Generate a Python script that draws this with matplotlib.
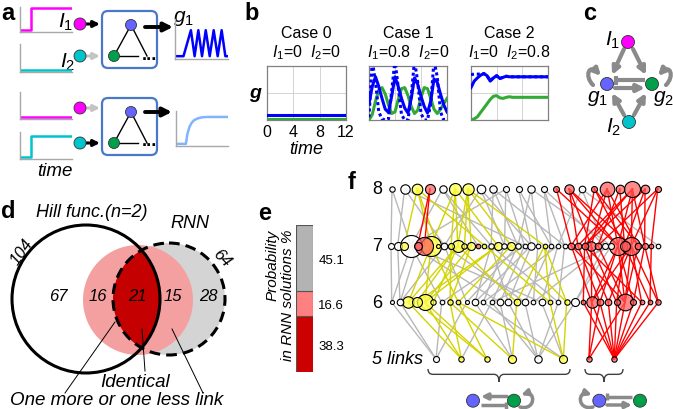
import numpy as np
import matplotlib
matplotlib.use('Agg')
import matplotlib.pyplot as plt
from matplotlib.patches import Circle, FancyBboxPatch, FancyArrowPatch, PathPatch
from matplotlib.path import Path

plt.rcParams['font.family'] = ['Liberation Sans', 'DejaVu Sans']
plt.rcParams['mathtext.fontset'] = 'custom'
plt.rcParams['mathtext.rm'] = 'Liberation Sans'
plt.rcParams['mathtext.it'] = 'Liberation Sans:italic'
plt.rcParams['mathtext.bf'] = 'Liberation Sans:bold:italic'

# ------------------------------------------------------------------ data
# panel a: schematic input / output traces (normalised time, level)
a_step_t = [0, 0.21, 0.21, 1]
a_I1_on = [0.08, 0.08, 0.95, 0.95]
a_I2_on = [0.08, 0.08, 0.85, 0.85]
a_flat_t = [0, 1]
a_I_off = [0.07, 0.07]
a_osc_t = [0, 0.16, 0.30, 0.37, 0.44, 0.51, 0.58, 0.655, 0.73, 0.805, 0.88, 0.95, 1.0]
a_osc_y = [0.07, 0.07, 0.72, 0.07, 0.72, 0.07, 0.72, 0.07, 0.72, 0.07, 0.72, 0.07, 0.07]
a_resp_t = [0, 0.19, 0.22, 0.26, 0.30, 0.35, 0.42, 0.50, 0.60, 1.0]
a_resp_y = [0.06, 0.06, 0.35, 0.55, 0.66, 0.74, 0.79, 0.82, 0.83, 0.83]

# panel b: time courses
b_time = np.arange(0, 12.01, 0.5)
case_titles = ['Case 0', 'Case 1', 'Case 2']
case_inputs = [r'$I_1$=0  $I_2$=0', r'$I_1$=0.8  $I_2$=0', r'$I_1$=0  $I_2$=0.8']
c0_blue = [0.10] * 25
c0_green = [0.025] * 25
c1_blue = [0.30, 0.62, 0.80, 0.62, 0.40, 0.20, 0.14, 0.45, 0.80, 0.62, 0.40, 0.22, 0.13,
           0.40, 0.78, 0.66, 0.44, 0.25, 0.13, 0.35, 0.76, 0.70, 0.48, 0.28, 0.15]
c1_dot = [0.05, 1.10, 0.70, 0.15, 0.02, 0.00, 0.02, 0.55, 1.10, 0.60, 0.10, 0.00, 0.00,
          0.45, 1.10, 0.70, 0.12, 0.00, 0.00, 0.30, 1.10, 0.80, 0.15, 0.00, 0.00]
c1_green = [0.00, 0.10, 0.35, 0.55, 0.60, 0.48, 0.28, 0.12, 0.15, 0.38, 0.58, 0.60, 0.45,
            0.25, 0.12, 0.18, 0.42, 0.60, 0.58, 0.40, 0.20, 0.12, 0.20, 0.30, 0.40]
c2_blue = [0.60, 0.72, 0.78, 0.83, 0.86, 0.82, 0.72, 0.78, 0.82, 0.77, 0.79, 0.81, 0.80,
           0.80, 0.80, 0.80, 0.80, 0.80, 0.80, 0.80, 0.80, 0.80, 0.80, 0.80, 0.80]
c2_dot = [0.84, 0.85, 0.85, 0.85, 0.86, 0.82, 0.73, 0.78, 0.82, 0.77, 0.79, 0.81, 0.80,
          0.80, 0.80, 0.80, 0.80, 0.80, 0.80, 0.80, 0.80, 0.80, 0.80, 0.80, 0.80]
c2_green = [0.00, 0.02, 0.06, 0.14, 0.22, 0.30, 0.38, 0.44, 0.45, 0.41, 0.40, 0.42, 0.43,
            0.42, 0.42, 0.42, 0.42, 0.42, 0.42, 0.42, 0.42, 0.42, 0.42, 0.42, 0.42]
b_ticks = [0, 4, 8, 12]

# panel d: Venn counts
venn_hill_total = 104
venn_rnn_total = 64
venn_counts = [67, 16, 21, 15, 28]

# panel e: stacked probability bar (bottom -> top)
e_values = [38.3, 16.6, 45.1]
e_colors = ['#cc0000', '#ff8080', '#b3b3b3']

# panel f: topology nodes per number of links (radius ~ frequency, category)
f_rows = [8, 7, 6, 5]
f_size = {
    8: [2.7, 4.7, 5.3, 5, 3.7, 6, 5.7, 4.3, 3.7, 3, 3, 3.7, 3, 3, 4.7, 3.3, 3, 7.3, 4.3, 8, 4.3, 3],
    7: [3, 4, 4, 11, 4, 9, 10, 2, 3.3, 3, 6, 2.7, 4, 2.3, 2.3, 2.7, 4, 2.7, 4, 2.7, 2.3, 3.7, 2.3,
        2.3, 2.3, 2.3, 2.3, 3.3, 3.3, 3.3, 4.7, 3.3, 3, 3, 9, 5, 9, 3.3, 3, 2.3, 2.3],
    6: [2, 3.3, 5.7, 5, 8, 2.7, 2.3, 2.7, 2.3, 2, 3.3, 2.3, 2.3, 3.3, 3.3, 3.3, 3.3, 2.3, 3.3,
        2.3, 2.3, 2.7, 4, 2.3, 5.7, 3.3, 3.3, 3, 8.3, 3, 2.3, 2.3, 2.7],
    5: [3, 2.7, 2.7, 4, 3.7, 4, 2.7, 2.7],
}
f_cat = {
    8: "wwyrwyywwwwwwrrwrrrrrr",
    7: "wwywrryywy" + "yyyrywywyw" + "wwwywwwrrr" + "rrwwrrrrrr" + "w",
    6: "wwyyyywyyw" + "wwwwwywwwy" + "wywrrrrrrr" + "rrr",
    5: "wyyywyrr",
}
links_5_6 = [(0, 0), (0, 1), (0, 6), (0, 9), (1, 2), (1, 4), (1, 7), (1, 12), (2, 3), (2, 4), (2, 8),
             (3, 7), (3, 15), (3, 10), (3, 13), (4, 12), (4, 14), (4, 16), (4, 22), (4, 20),
             (5, 8), (5, 19), (5, 21), (5, 11), (5, 18), (6, 24), (6, 28), (6, 25),
             (7, 23), (7, 24), (7, 25), (7, 26), (7, 27), (7, 28), (7, 29), (7, 30), (7, 31), (7, 32)]
links_6_7 = [(24, 27), (24, 30), (24, 34), (24, 36), (25, 28), (25, 34), (26, 29), (26, 36), (27, 30),
             (27, 35), (28, 31), (28, 34), (28, 36), (28, 37), (29, 38), (29, 34), (30, 36), (31, 39),
             (32, 36), (32, 38), (23, 29), (28, 27), (31, 35), (30, 29),
             (2, 6), (3, 10), (4, 6), (4, 12), (4, 16), (5, 10), (7, 12), (8, 18), (15, 10), (15, 23),
             (19, 14), (21, 23), (2, 10), (3, 16), (8, 6), (19, 23), (21, 18), (7, 9),
             (0, 0), (0, 3), (1, 1), (1, 8), (6, 3), (9, 8), (10, 15), (11, 17), (12, 19), (13, 3),
             (13, 20), (14, 21), (16, 8), (16, 24), (17, 22), (18, 25), (20, 26), (22, 32), (22, 33),
             (12, 33), (14, 15), (10, 21), (9, 19), (6, 20), (11, 25), (18, 3), (20, 15), (17, 32), (1, 4)]
links_7_8 = [(4, 3), (5, 3), (27, 13), (27, 17), (28, 14), (28, 19), (29, 16), (29, 20), (30, 17),
             (30, 14), (31, 18), (31, 21), (34, 17), (34, 19), (34, 13), (35, 18), (35, 20), (36, 19),
             (36, 14), (36, 21), (37, 17), (37, 16), (38, 20), (38, 19), (39, 21), (34, 14), (35, 16),
             (29, 19),
             (2, 2), (6, 2), (6, 5), (10, 5), (10, 6), (12, 6), (16, 5), (18, 6), (7, 2), (11, 6),
             (9, 5), (14, 2), (23, 6),
             (0, 0), (1, 1), (3, 0), (3, 4), (8, 1), (15, 4), (17, 7), (19, 8), (20, 9), (21, 10),
             (22, 11), (24, 12), (25, 15), (26, 12), (32, 15), (33, 11), (40, 15), (15, 8), (17, 9),
             (19, 11), (21, 7), (8, 7), (3, 9), (24, 10), (13, 4), (26, 8), (32, 12), (20, 1)]

# ------------------------------------------------------------------ styles
W, H = 673, 410
MAG, CYA = '#ff00ff', '#00c4cc'
BLU, GRN = '#6464ff', '#00a04a'
GRAYARR = '#8a8a8a'

fig = plt.figure(figsize=(W / 100, H / 100), dpi=100)
ax0 = fig.add_axes([0, 0, 1, 1])
ax0.set_xlim(0, W)
ax0.set_ylim(H, 0)
ax0.axis('off')


def px_axes(x0, y0, x1, y1):
    return fig.add_axes([x0 / W, 1 - y1 / H, (x1 - x0) / W, (y1 - y0) / H])


def node(x, y, c, r=6.0):
    ax0.add_patch(Circle((x, y), r, fc=c, ec='#333333', lw=0.6, zorder=6))


def arrow(p0, p1, color, lw=2.0, ms=10):
    ax0.add_patch(FancyArrowPatch(p0, p1, arrowstyle='-|>', mutation_scale=ms, color=color,
                                  lw=lw, shrinkA=0, shrinkB=0, zorder=5))


def tbar(p0, p1, color, lw=3.0, half=4.5):
    ax0.plot([p0[0], p1[0]], [p0[1], p1[1]], color=color, lw=lw, solid_capstyle='butt', zorder=5)
    ax0.plot([p1[0], p1[0]], [p1[1] - half, p1[1] + half], color=color, lw=lw,
             solid_capstyle='butt', zorder=5)


def loop(pts, color=GRAYARR, lw=3.0, ms=11):
    path = Path(pts, [Path.MOVETO, Path.CURVE4, Path.CURVE4, Path.CURVE4])
    ax0.add_patch(FancyArrowPatch(path=path, arrowstyle='-|>', mutation_scale=ms, color=color,
                                  lw=lw, zorder=5))


def label(x, y, s):
    ax0.text(x, y, s, fontsize=17, fontweight='bold', ha='center', va='center')


# ------------------------------------------------------------------ panel a
label(8, 13, 'a')


def sketch_axes(x0, y0, x1, y1):
    ax = px_axes(x0, y0, x1, y1)
    ax.set_xlim(0, 1)
    ax.set_ylim(0, 1)
    for s in ['top', 'right']:
        ax.spines[s].set_visible(False)
    for s in ['left', 'bottom']:
        ax.spines[s].set_color('#a8a8a8')
        ax.spines[s].set_linewidth(1.0)
    ax.set_xticks([])
    ax.set_yticks([])
    ax.patch.set_alpha(0)
    return ax


s1 = sketch_axes(20, 8, 72, 33)
s1.plot(a_step_t, a_I1_on, color=MAG, lw=1.8)
s2 = sketch_axes(20, 45, 72, 73)
s2.plot(a_flat_t, a_I_off, color=CYA, lw=1.8)
s3 = sketch_axes(175, 20, 228, 60)
s3.plot(a_osc_t, a_osc_y, color='#0000ff', lw=1.8)
s4 = sketch_axes(20, 93, 72, 120)
s4.plot(a_flat_t, a_I_off, color=MAG, lw=1.8)
s5 = sketch_axes(20, 133, 72, 160)
s5.plot(a_step_t, a_I2_on, color=CYA, lw=1.8)
s6 = sketch_axes(176, 112, 228, 147)
s6.plot(a_resp_t, a_resp_y, color='#80b4ff', lw=1.8)

ax0.text(66, 22, r'$I_1$', fontsize=15, ha='center', va='center')
ax0.text(68, 62, r'$I_2$', fontsize=15, ha='center', va='center')
ax0.text(183, 18, r'$g_1$', fontsize=15, ha='center', va='center')
ax0.text(55, 172, 'time', fontsize=13.5, style='italic', ha='center', va='center')

for (yI1, yI2) in [(25, 57), (109, 144)]:
    node(80, yI1, MAG)
    node(80, yI2, CYA)
for (y1, y2, c1, c2) in [(25, 57, 'black', '#c4c4c4'), (109, 144, '#c4c4c4', 'black')]:
    arrow((86, y1), (100, y1), c1, lw=2.2, ms=9)
    arrow((86, y2), (100, y2), c2, lw=2.2, ms=9)
for ytop in [12, 99]:
    ax0.add_patch(FancyBboxPatch((102, ytop), 55, 57, boxstyle='round,pad=0,rounding_size=6',
                                 fc='white', ec='#4a78c8', lw=1.6, zorder=3))
    bx, by = 131, ytop + 14
    gx, gy = 114, ytop + 45
    ax0.plot([bx, gx], [by, gy], color='black', lw=1.0, zorder=4)
    ax0.plot([bx, 147], [by, gy], color='black', lw=1.0, zorder=4)
    ax0.plot([gx, 138], [gy, gy], color='black', lw=1.0, zorder=4)
    ax0.text(149, gy - 2, '...', fontsize=13, fontweight='bold', ha='center', va='center', zorder=4)
    node(bx, by, BLU, 5.5)
    node(gx, gy, GRN, 5.5)
arrow((145, 28), (173, 28), 'black', lw=2.8, ms=13)
arrow((145, 113), (172, 113), 'black', lw=2.8, ms=13)

# ------------------------------------------------------------------ panel b
label(252, 13, 'b')
case_px = [(267, 67, 346, 121), (369, 67, 447, 121), (471, 67, 548, 121)]
case_series = [(c0_blue, None, c0_green), (c1_blue, c1_dot, c1_green), (c2_blue, c2_dot, c2_green)]
for k, (px, ser) in enumerate(zip(case_px, case_series)):
    ax = px_axes(*px)
    ax.set_xlim(0, 12)
    ax.set_ylim(0, 1)
    ax.set_xticks(b_ticks)
    ax.set_yticks([0.5])
    ax.grid(True, color='#d4d4d4', lw=0.7)
    ax.tick_params(length=0, labelsize=11.5, pad=3)
    ax.set_yticklabels([])
    if k > 0:
        ax.set_xticklabels([])
    for s in ax.spines.values():
        s.set_color('#808080')
        s.set_linewidth(0.9)
    blue, dot, green = ser
    ax.plot(b_time, green, color='#33aa33', lw=2.2, zorder=3)
    if dot is not None:
        ax.plot(b_time, dot, color='#0000ff', lw=2.2, ls=(0, (1.0, 0.9)), zorder=4)
    ax.plot(b_time, blue, color='#0000ff', lw=2.2, zorder=5)
    cx = (px[0] + px[2]) / 2
    ax0.text(cx, 33, case_titles[k], fontsize=11.5, ha='center', va='center')
    ax0.text(cx, 53, case_inputs[k], fontsize=11.5, ha='center', va='center')
    if k == 0:
        ax0.text(cx, 150, 'time', fontsize=13, style='italic', ha='center', va='center')
        ax0.text(256, 95, r'$\mathbf{g}$', fontsize=14, ha='center', va='center')

# ------------------------------------------------------------------ panel c
label(590, 13, 'c')
I1c, g1c, g2c, I2c = (628, 43), (607, 85), (652, 85), (629, 123)
arrow((624, 50), (612, 76), GRAYARR, lw=3, ms=11)
arrow((633, 50), (646, 76), GRAYARR, lw=3, ms=11)
arrow((624, 116), (612, 94), GRAYARR, lw=3, ms=11)
arrow((634, 116), (646, 94), GRAYARR, lw=3, ms=11)
tbar((645, 81), (616, 81), GRAYARR)
arrow((615, 89), (645, 89), GRAYARR, lw=3, ms=11)
loop([(593, 86), (584, 77), (589, 64), (601, 77)], ms=10)
loop([(666, 86), (675, 77), (670, 64), (658, 77)], ms=10)
node(*I1c, MAG, 6.5)
node(*g1c, BLU, 6.5)
node(*g2c, GRN, 6.5)
node(*I2c, CYA, 6.5)
ax0.text(613, 40, r'$I_1$', fontsize=15, ha='center', va='center')
ax0.text(614, 127, r'$I_2$', fontsize=15, ha='center', va='center')
ax0.text(597, 99, r'$g_1$', fontsize=15, ha='center', va='center')
ax0.text(663, 99, r'$g_2$', fontsize=15, ha='center', va='center')

# ------------------------------------------------------------------ panel d
label(8, 212, 'd')
hill_c, hill_r = (86, 300), 74
rnn_c, rnn_r = (169, 300), 56
ax0.add_patch(Circle(rnn_c, rnn_r, fc='#d4d4d4', ec='none', zorder=1))
ax0.add_patch(Circle((138, 301), 55, fc='#f4a0a0', ec='none', zorder=2))
lens = Circle(rnn_c, rnn_r, fc='#c40000', ec='none', zorder=3)
ax0.add_patch(lens)
clipc = Circle(hill_c, hill_r, transform=ax0.transData)
lens.set_clip_path(clipc)
ax0.add_patch(Circle(hill_c, hill_r, fill=False, ec='black', lw=2.2, zorder=5))
ax0.add_patch(Circle(rnn_c, rnn_r, fill=False, ec='black', lw=2.2, ls=(0, (3.5, 2)), zorder=5))
for x, v in zip([58, 98, 137, 173, 208], venn_counts):
    ax0.text(x, 297, str(v), fontsize=12, style='italic', ha='center', va='center', zorder=6)
ax0.text(22, 252, str(venn_hill_total), fontsize=12, style='italic', rotation=55,
         ha='center', va='center')
ax0.text(222, 258, str(venn_rnn_total), fontsize=12, style='italic', rotation=-45,
         ha='center', va='center')
ax0.text(92, 213, 'Hill func.(n=2)', fontsize=13, style='italic', ha='center', va='center')
ax0.text(190, 224, 'RNN', fontsize=13, style='italic', ha='center', va='center')
ax0.text(135, 383, 'Identical', fontsize=13.5, style='italic', ha='center', va='center')
ax0.text(117, 401, 'One more or one less link', fontsize=13.5, style='italic',
         ha='center', va='center')
for (p, q) in [((145, 372), (142, 330)), ((65, 394), (115, 323)), ((203, 394), (172, 330))]:
    ax0.plot([p[0], q[0]], [p[1], q[1]], color='black', lw=0.7, zorder=7)

# ------------------------------------------------------------------ panel e
label(265, 214, 'e')
axe = px_axes(296, 226, 313, 373)
bottom = 0
for v, c in zip(e_values, e_colors):
    axe.bar(0, v, bottom=bottom, width=1.0, color=c, edgecolor='#555555', lw=0.8)
    axe.text(1.58, bottom + v / 2 - 1.2, f'{v:.1f}', fontsize=9.5, ha='center', va='center',
             transform=axe.transData, clip_on=False)
    bottom += v
axe.set_xlim(-0.5, 0.5)
axe.set_ylim(0, 100)
axe.axis('off')
ax0.text(273, 230, 'Probability', fontsize=11, style='italic', rotation=90,
         rotation_mode='anchor', ha='right', va='center')
ax0.text(288, 230, 'in RNN solutions %', fontsize=11, style='italic', rotation=90,
         rotation_mode='anchor', ha='right', va='center')

# ------------------------------------------------------------------ panel f
label(352, 183, 'f')
axf = px_axes(380, 178, 670, 372)
axf.set_xlim(380, 670)
axf.set_ylim(4.788, 8.212)
axf.axis('off')
axf.patch.set_alpha(0)
row_span = {8: (392, 657.7), 7: (391, 658), 6: (391.7, 658.3), 5: (436, 614.3)}
xs = {n: np.linspace(row_span[n][0], row_span[n][1], len(f_size[n])) for n in f_rows}
face = {'w': (1, 1, 1, 0.85), 'y': (1.0, 1.0, 0.3, 0.75), 'r': (1.0, 0.35, 0.35, 0.7)}
line_col = {'w': '#b8b8b8', 'y': '#d4d400', 'r': '#ff0000'}
for (lo, hi, links) in [(5, 6, links_5_6), (6, 7, links_6_7), (7, 8, links_7_8)]:
    for i, j in links:
        ca, cb = f_cat[lo][i], f_cat[hi][j]
        col = line_col[ca] if ca == cb else line_col['w']
        z = {'w': 1, 'y': 2, 'r': 3}[ca] if ca == cb else 1
        axf.plot([xs[lo][i], xs[hi][j]], [lo, hi], color=col, lw=1.0, zorder=z)
for n in f_rows:
    order = np.argsort(f_size[n])[::-1]
    for i in order:
        r = f_size[n][i]
        axf.scatter([xs[n][i]], [n], s=(2 * r * 0.72) ** 2, facecolors=[face[f_cat[n][i]]],
                    edgecolors='black', linewidths=0.8, zorder=10)
for n, yy in [(8, 190), (7, 246.7), (6, 303.3)]:
    ax0.text(377, yy, str(n), fontsize=13, ha='center', va='center')
ax0.text(423, 360, '5 links', fontsize=13, style='italic', ha='right', va='center')


def brace(x1, x2, y0, depth=12.7, color='#404040'):
    xm = (x1 + x2) / 2
    ym = y0 + depth * 0.42
    yt = y0 + depth
    q = 5
    verts = [(x1, y0), (x1, ym), (x1 + q, ym), (xm - q, ym), (xm, ym), (xm, yt),
             (xm, ym), (xm + q, ym), (x2 - q, ym), (x2, ym), (x2, y0)]
    codes = [Path.MOVETO, Path.CURVE3, Path.CURVE3, Path.LINETO, Path.CURVE3, Path.CURVE3,
             Path.CURVE3, Path.CURVE3, Path.LINETO, Path.CURVE3, Path.CURVE3]
    ax0.add_patch(PathPatch(Path(verts, codes), fc='none', ec=color, lw=1.0))


brace(428, 570, 370)
brace(585, 623, 370)

# bottom motif icons
ny = 401.7
node(473, ny, BLU, 6.5)
node(514, ny, GRN, 6.5)
arrow((507, 397.5), (481, 397.5), GRAYARR, lw=2.5, ms=9)
tbar((481, 406), (506, 406), GRAYARR, lw=2.5, half=3.5)
loop([(520, 408), (536, 412), (536, 391), (521, 396)], lw=2.5, ms=9)
node(599.3, ny, BLU, 6.5)
node(640, ny, GRN, 6.5)
tbar((632, 397.5), (607, 397.5), GRAYARR, lw=2.5, half=3.5)
arrow((607, 406), (632, 406), GRAYARR, lw=2.5, ms=9)
loop([(593, 408), (577, 412), (577, 391), (592, 396)], lw=2.5, ms=9)

fig.savefig('out.png', dpi=100)
